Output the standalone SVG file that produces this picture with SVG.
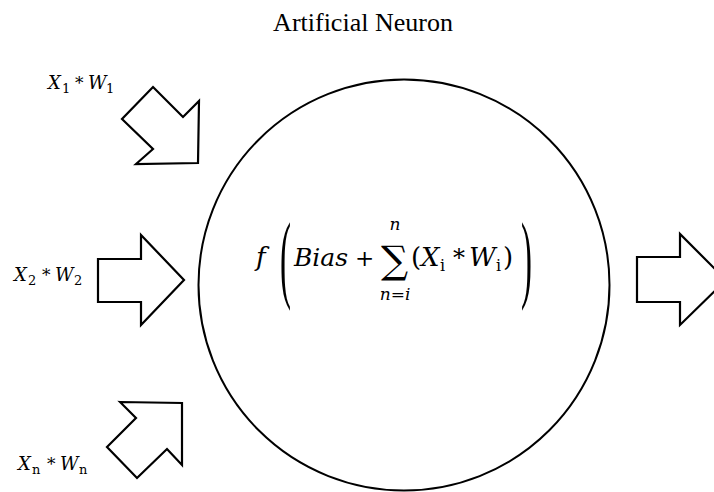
<svg xmlns="http://www.w3.org/2000/svg" width="714" height="492" viewBox="0 0 714 492">
<style>
.arrow{fill:#fff;stroke:#000;stroke-width:2.2;stroke-linejoin:miter}
.math{font-family:"DejaVu Serif","Liberation Serif",serif;font-style:italic;fill:#000}
.rm{font-family:"DejaVu Serif","Liberation Serif",serif;font-style:normal;fill:#000}
.title{font-family:"Liberation Serif","Times New Roman",serif;font-size:26px;fill:#000}
.paren{font-family:"Liberation Serif",serif;font-size:30px;fill:#000}
</style>
<rect width="714" height="492" fill="#fff"/>
<g id="title"><text class="title" x="363" y="31" text-anchor="middle">Artificial Neuron</text></g>
<g id="neuron">
<circle cx="404" cy="285" r="205.5" fill="none" stroke="#000" stroke-width="2"/>
<text class="math" x="256" y="266" font-size="26">f</text>
<text class="paren" transform="translate(280,290) scale(1.1,3.25)">(</text>
<text class="math" x="294" y="266" font-size="25">Bias</text>
<text class="rm" x="355" y="266" font-size="23">+</text>
<text class="rm" x="381" y="273" font-size="38">∑</text>
<text class="math" x="395" y="230" font-size="17" text-anchor="middle">n</text>
<text class="math" x="395" y="300" font-size="17" text-anchor="middle">n<tspan class="rm">=</tspan>i</text>
<text class="rm" x="411" y="266" font-size="26">(</text>
<text class="math" x="421" y="266" font-size="26">X</text>
<text class="rm" x="440" y="271" font-size="16">i</text>
<text class="rm" x="453" y="266" font-size="24">*</text>
<text class="math" x="469" y="266" font-size="26">W</text>
<text class="rm" x="496" y="271" font-size="16">i</text>
<text class="rm" x="503" y="266" font-size="26">)</text>
<text class="paren" transform="translate(521,290) scale(1.1,3.25)">)</text>
</g>
<g id="input1">
<text class="math" x="48" y="89" font-size="18">X</text><text class="rm" x="62" y="93" font-size="13">1</text>
<text class="rm" x="75" y="89" font-size="17">*</text>
<text class="math" x="88" y="89" font-size="18">W</text><text class="rm" x="106" y="93" font-size="13">1</text>
</g>
<g id="input2">
<text class="math" x="14" y="281" font-size="18">X</text><text class="rm" x="28" y="285" font-size="13">2</text>
<text class="rm" x="42" y="281" font-size="17">*</text>
<text class="math" x="55" y="281" font-size="18">W</text><text class="rm" x="74" y="285" font-size="13">2</text>
</g>
<g id="inputn">
<text class="math" x="18" y="470" font-size="18">X</text><text class="rm" x="32" y="474" font-size="13">n</text>
<text class="rm" x="47" y="470" font-size="17">*</text>
<text class="math" x="60" y="470" font-size="18">W</text><text class="rm" x="79" y="474" font-size="13">n</text>
</g>
<g id="connectors">
<polygon class="arrow" points="153,87 183,117 199,101 198,163 136,164 153,149 122,119"/>
<polygon class="arrow" points="98,259 141,259 141,235 184,280 141,325 141,302 98,302"/>
<polygon class="arrow" points="120,402 182,403 182,465 167,449 137,478 107,447 136,418"/>
<polygon class="arrow" points="637,257 680,257 680,234 726,280 680,325 680,302 637,302"/>
</g>
</svg>
